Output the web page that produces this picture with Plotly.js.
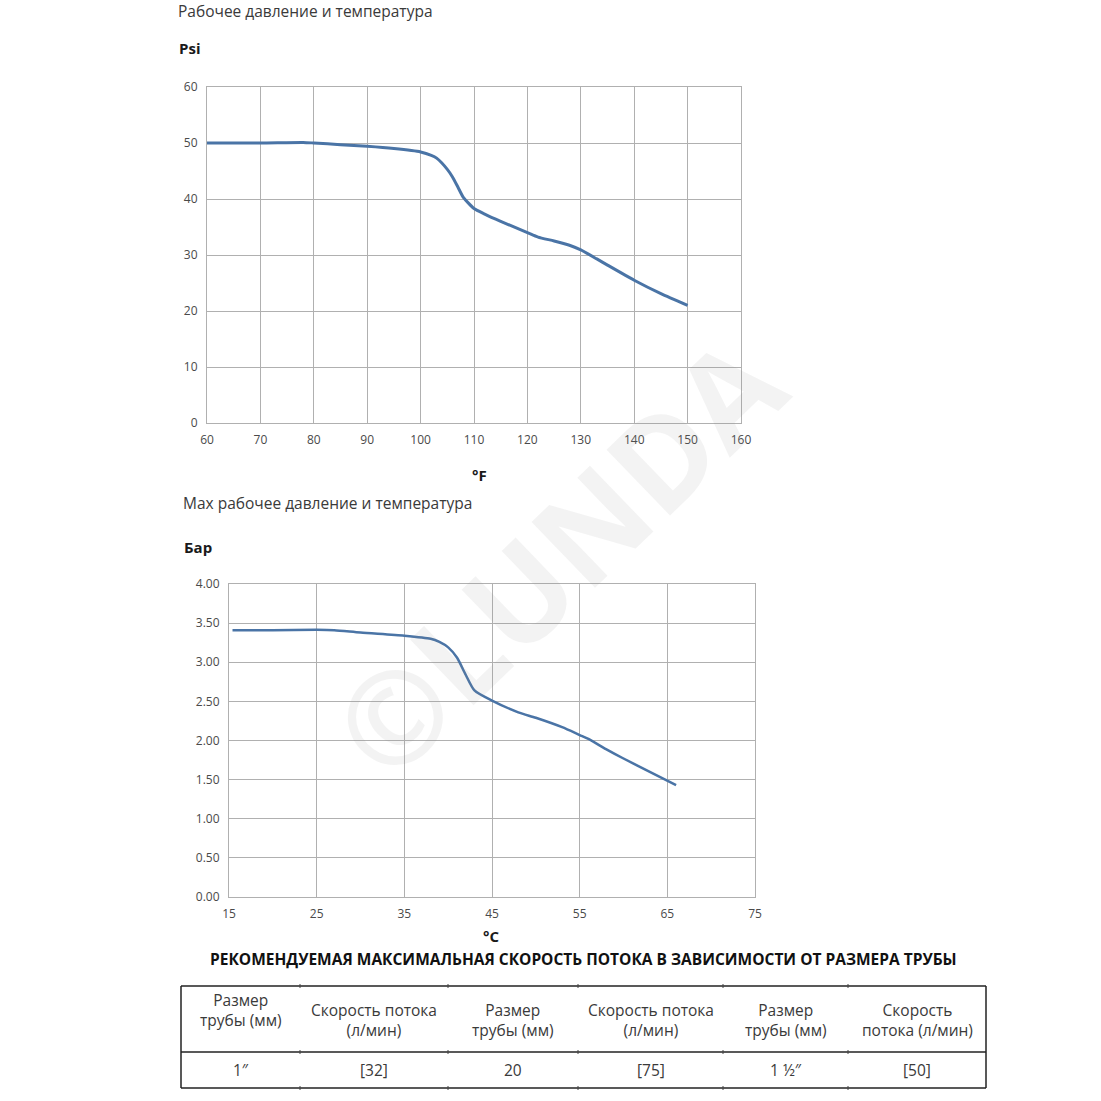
<!DOCTYPE html>
<html>
<head>
<meta charset="utf-8">
<script src="https://cdn.plot.ly/plotly-3.0.1.min.js"></script>
<style>
  html, body { margin: 0; padding: 0; background: #ffffff; }
  #chart { width: 1101px; height: 1101px; }
</style>
</head>
<body>
<div id="chart"></div>
<script>
// ---------- Data ----------
const fTemps = [60, 70, 78, 80, 85, 90, 95, 100, 102, 103, 105, 106, 107, 108, 110, 112, 115, 120, 122, 125, 128, 130, 133, 135, 140, 145, 150];
const psiValues = [50, 50, 50.1, 50, 49.7, 49.4, 49.0, 48.4, 47.8, 47.3, 45.3, 43.9, 42.1, 40.3, 38.3, 37.3, 36.0, 34.0, 33.2, 32.5, 31.7, 30.9, 29.3, 28.2, 25.5, 23.1, 21.0];

const cTemps = [15.4, 20, 25, 27, 30, 35, 38, 39, 40, 41, 42, 43, 45, 48, 50, 53, 55, 56, 58, 60, 63, 66];
const barValues = [3.41, 3.41, 3.415, 3.41, 3.38, 3.34, 3.30, 3.26, 3.19, 3.06, 2.84, 2.64, 2.51, 2.36, 2.29, 2.17, 2.07, 2.02, 1.89, 1.77, 1.60, 1.43];

const chart1Title = 'Рабочее давление и температура';
const chart1YLabel = 'Psi';
const chart1XLabel = '°F';
const chart2Title = 'Max рабочее давление и температура';
const chart2YLabel = 'Бар';
const chart2XLabel = '°C';

const tableTitle = 'РЕКОМЕНДУЕМАЯ МАКСИМАЛЬНАЯ СКОРОСТЬ ПОТОКА В ЗАВИСИМОСТИ ОТ РАЗМЕРА ТРУБЫ';
const tableHeaders = ['Размер<br>трубы (мм)<br>\u00a0', 'Скорость потока<br>(л/мин)', 'Размер<br>трубы (мм)', 'Скорость потока<br>(л/мин)', 'Размер<br>трубы (мм)', 'Скорость<br>потока (л/мин)'];
const tableRow = ['1″', '[32]', '20', '[75]', '1 ½″', '[50]'];

const watermark = '©LUNDA';

// ---------- Layout helpers (pixel -> paper) ----------
const W = 1101, H = 1101;
const px = x => x / W;
const py = y => 1 - y / H;

const FONT = 'Open Sans, Noto Sans, sans-serif';
const LINE_COLOR = '#4a74a6';
const GRID = '#b0b0b0';

const traces = [
  { x: fTemps, y: psiValues, xaxis: 'x', yaxis: 'y', type: 'scatter', mode: 'lines',
    line: { color: LINE_COLOR, width: 3, shape: 'spline', smoothing: 0.6 }, hoverinfo: 'x+y' },
  { x: cTemps, y: barValues, xaxis: 'x2', yaxis: 'y2', type: 'scatter', mode: 'lines',
    line: { color: LINE_COLOR, width: 2.5, shape: 'spline', smoothing: 0.7 }, hoverinfo: 'x+y' }
];

const axisBase = {
  showgrid: true, gridcolor: GRID, gridwidth: 1,
  showline: true, linecolor: GRID, linewidth: 1, mirror: true,
  zeroline: false, ticks: '', fixedrange: true,
  tickfont: { family: FONT, size: 12, color: '#4a4a4a' }
};

// table geometry
const colBounds = [181, 300, 448, 578, 723, 848, 986];
const tTop = 986, tMid = 1052, tBot = 1088;

const annotations = [
  { text: watermark, x: px(556), y: py(556), xanchor: 'center', yanchor: 'middle', textangle: -44,
    font: { family: FONT, size: 128, color: 'rgba(140,140,140,0.10)', weight: 'bold' }, showarrow: false },
  { text: chart1Title, x: px(176), y: py(11), xanchor: 'left', yanchor: 'middle', font: { family: FONT, size: 15.5, color: '#3a3a3a' } },
  { text: '<b>' + chart1YLabel + '</b>', x: px(177), y: py(48), xanchor: 'left', yanchor: 'middle', font: { family: FONT, size: 15, color: '#1a1a1a' } },
  { text: '<b>' + chart1XLabel + '</b>', x: px(479), y: py(475), xanchor: 'center', yanchor: 'middle', font: { family: FONT, size: 15, color: '#1a1a1a' } },
  { text: chart2Title, x: px(181), y: py(503), xanchor: 'left', yanchor: 'middle', font: { family: FONT, size: 15.5, color: '#3a3a3a' } },
  { text: '<b>' + chart2YLabel + '</b>', x: px(182), y: py(547), xanchor: 'left', yanchor: 'middle', font: { family: FONT, size: 15, color: '#1a1a1a' } },
  { text: '<b>' + chart2XLabel + '</b>', x: px(491), y: py(936), xanchor: 'center', yanchor: 'middle', font: { family: FONT, size: 15, color: '#1a1a1a' } },
  { text: '<b>' + tableTitle + '</b>', x: px(583), y: py(959), xanchor: 'center', yanchor: 'middle', font: { family: FONT, size: 15.5, color: '#111111' } }
];

for (let i = 0; i < 6; i++) {
  const cx = (colBounds[i] + colBounds[i + 1]) / 2;
  annotations.push({ text: tableHeaders[i], x: px(cx), y: py((tTop + tMid) / 2 + 1), xanchor: 'center', yanchor: 'middle', align: 'center',
    font: { family: FONT, size: 15.5, color: '#3a3a3a' } });
  annotations.push({ text: tableRow[i], x: px(cx), y: py((tMid + tBot) / 2), xanchor: 'center', yanchor: 'middle', align: 'center',
    font: { family: FONT, size: 15.5, color: '#3a3a3a' } });
}
annotations.forEach(a => { a.xref = 'paper'; a.yref = 'paper'; if (a.showarrow === undefined) a.showarrow = false; });

const shapes = [];
[tTop, tMid, tBot].forEach(y => shapes.push({ type: 'line', xref: 'paper', yref: 'paper', x0: px(181), x1: px(986), y0: py(y), y1: py(y), line: { color: '#222', width: 1.5 } }));
[181, 986].forEach(x => shapes.push({ type: 'line', xref: 'paper', yref: 'paper', x0: px(x), x1: px(x), y0: py(tTop), y1: py(tBot), line: { color: '#222', width: 1.5 } }));
colBounds.slice(1, 6).forEach(x => [tTop, tMid, tBot].forEach(y =>
  shapes.push({ type: 'line', xref: 'paper', yref: 'paper', x0: px(x), x1: px(x), y0: py(y - 2), y1: py(y + 2), line: { color: '#444', width: 1 } })));

const layout = {
  width: W, height: H,
  margin: { l: 0, r: 0, t: 0, b: 0 },
  paper_bgcolor: '#ffffff', plot_bgcolor: 'rgba(0,0,0,0)',
  showlegend: false,
  xaxis: Object.assign({}, axisBase, { domain: [px(207), px(741)], range: [60, 160], tick0: 60, dtick: 10, anchor: 'y', ticklabelstandoff: 6 }),
  yaxis: Object.assign({}, axisBase, { domain: [py(423), py(87)], range: [0, 60], dtick: 10, anchor: 'x', ticklabelstandoff: 6 }),
  xaxis2: Object.assign({}, axisBase, { domain: [px(229), px(755)], range: [15, 75], tick0: 15, dtick: 10, anchor: 'y2', ticklabelstandoff: 6 }),
  yaxis2: Object.assign({}, axisBase, { domain: [py(897), py(584)], range: [0, 4], dtick: 0.5, tickformat: '.2f', anchor: 'x2', ticklabelstandoff: 6 }),
  annotations: annotations,
  shapes: shapes
};

Plotly.newPlot('chart', traces, layout, { displayModeBar: false, staticPlot: true });
</script>
</body>
</html>
